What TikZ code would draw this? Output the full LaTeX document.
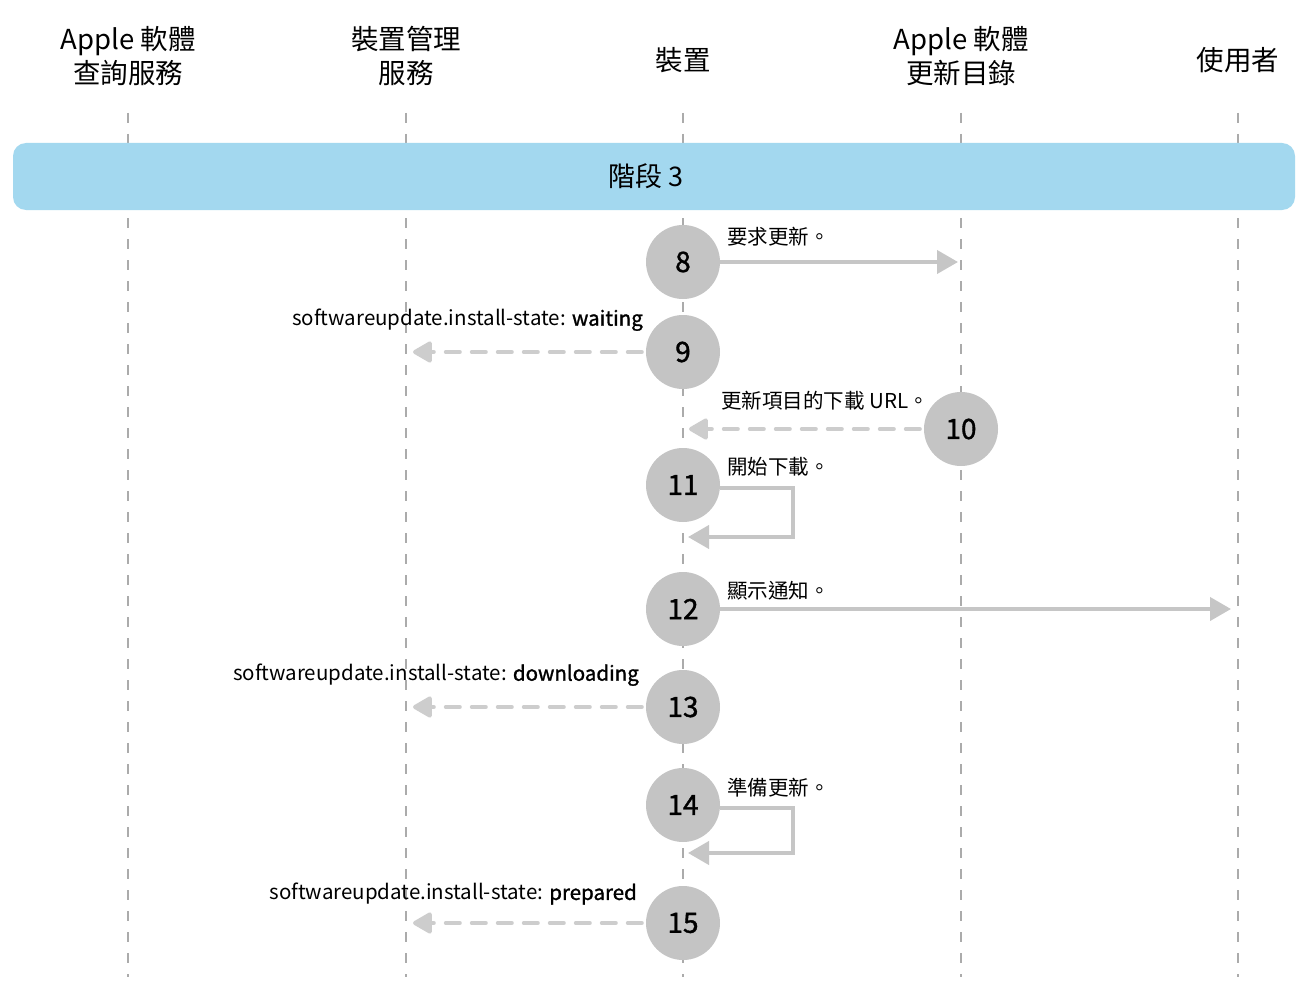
\documentclass[tikz,border=0pt]{standalone}
\usepackage{fontspec}
\setmainfont{Noto Sans CJK TC}
\newfontfamily\medf[FakeBold=1.3]{Noto Sans CJK TC}
\usetikzlibrary{arrows.meta}
\definecolor{banner}{HTML}{A3D8EF}
\definecolor{circ}{HTML}{C4C4C4}
\definecolor{arr}{HTML}{C6C6C6}
\definecolor{darr}{HTML}{CDCDCD}
\definecolor{life}{HTML}{ABABAB}
\tikzset{
  lifeline/.style={draw=life, line width=1.2pt, dash pattern=on 10pt off 11pt},
  head/.style={font=\fontsize{27.5}{32}\selectfont, align=center, text=black},
  stepcirc/.style={circle, fill=circ, minimum size=74pt, inner sep=0pt, font=\medf\fontsize{28}{32}\selectfont},
  msg/.style={font=\fontsize{20.5}{24}\selectfont, inner sep=0pt},
  solidarr/.style={draw=arr, line width=4pt, -{Triangle[length=21pt,width=23pt]}},
  dasharr/.style={draw=darr, line width=4pt, line cap=round, dash pattern=on 14pt off 12pt, -{Triangle[length=21pt,width=23pt,round]}},
}
\begin{document}
\begin{tikzpicture}[x=1pt,y=-1pt]
\path[use as bounding box, fill=white] (0,0) rectangle (1303,987);
% headers
\node[head] (h1) at (128,56) {Apple 軟體\\[2pt]查詢服務};
\node[head] (h2) at (406,56) {裝置管理\\[2pt]服務};
\node[head] (h3) at (683,60) {裝置};
\node[head] (h4) at (961,56) {Apple 軟體\\[2pt]更新目錄};
\node[head] (h5) at (1238,60) {使用者};
% lifelines
\foreach \i/\x in {1/128,2/406,3/683,4/961,5/1238}{
  \coordinate (top\i) at (\x,113);
  \coordinate (bot\i) at (\x,977);
  \draw[lifeline] (top\i) -- (bot\i);
}
% banner
\node[fill=banner, rounded corners=13pt, minimum width=1282pt, minimum height=67pt, inner sep=0pt] (banner) at (654,176.5) {};
\node[font=\fontsize{27}{30}\selectfont] (phase) at (646,176) {階段\ 3};
% circles
\node[stepcirc] (n8) at (683,262) {8};
\node[stepcirc] (n9) at (683,352) {9};
\node[stepcirc] (n10) at (961,429) {10};
\node[stepcirc] (n11) at (683,485) {11};
\node[stepcirc] (n12) at (683,609) {12};
\node[stepcirc] (n13) at (683,707) {13};
\node[stepcirc] (n14) at (683,805) {14};
\node[stepcirc] (n15) at (683,923) {15};
% end points
\coordinate (e8) at (958,262);
\coordinate (e9) at (413,352);
\coordinate (e10) at (689,429);
\coordinate (c11) at (793,537);
\coordinate (e11) at (688,537);
\coordinate (e12) at (1231,609);
\coordinate (e13) at (413,707);
\coordinate (c14) at (793,853);
\coordinate (e14) at (688,853);
\coordinate (e15) at (413,923);
% connectors
\draw[solidarr] (n8.east) -- (e8);
\draw[dasharr] ([xshift=-4pt]n9.west) -- (e9);
\draw[dasharr] ([xshift=-4pt]n10.west) -- (e10);
\draw[solidarr] ([yshift=-3pt]n11.east) -| (c11) -- (e11);
\draw[solidarr] (n12.east) -- (e12);
\draw[dasharr] ([xshift=-4pt]n13.west) -- (e13);
\draw[solidarr] ([yshift=-3pt]n14.east) -| (c14) -- (e14);
\draw[dasharr] ([xshift=-4pt]n15.west) -- (e15);
% labels
\node[msg, anchor=west] (l8) at (727,237) {要求更新。};
\node[msg, anchor=east] (l9) at (643,320) {softwareupdate.install-state: {\medf waiting}};
\node[msg, anchor=east] (l10) at (929,401) {更新項目的下載 URL。};
\node[msg, anchor=west] (l11) at (727,467) {開始下載。};
\node[msg, anchor=west] (l12) at (727,591) {顯示通知。};
\node[msg, anchor=east] (l13) at (639,675) {softwareupdate.install-state: {\medf downloading}};
\node[msg, anchor=west] (l14) at (727,788) {準備更新。};
\node[msg, anchor=east] (l15) at (637,894) {softwareupdate.install-state: {\medf prepared}};
\end{tikzpicture}
\end{document}
